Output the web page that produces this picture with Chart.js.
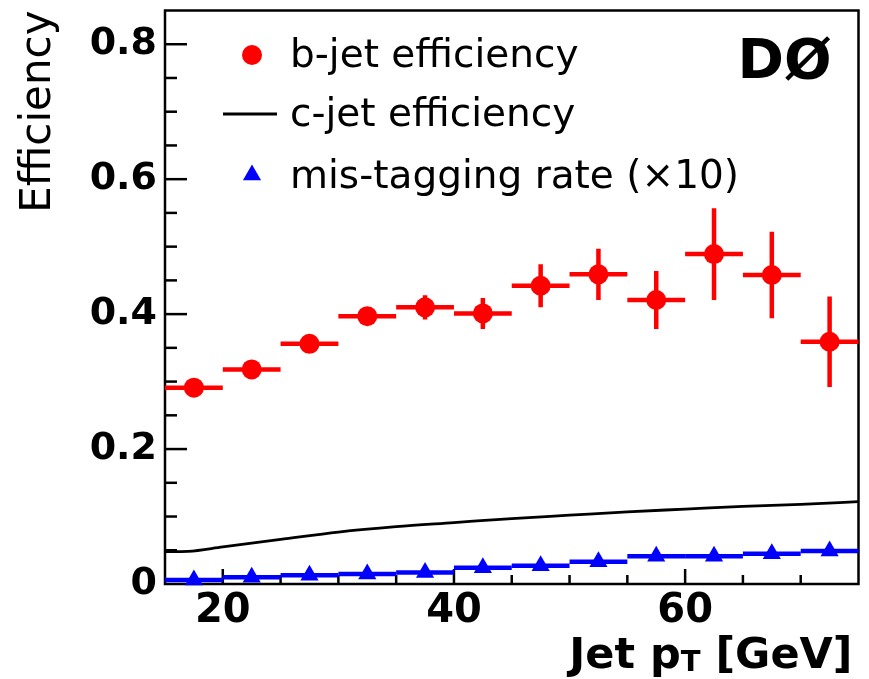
<!DOCTYPE html>
<html><head><meta charset="utf-8">
<script src="https://cdn.jsdelivr.net/npm/chart.js@4.4.1/dist/chart.umd.min.js"></script>
<style>html,body{margin:0;padding:0;background:#fff;} canvas{display:block;}</style>
</head><body>
<canvas id="c" width="869" height="679"></canvas>
<script>
// ---- data ----
const binCenters = [17.5, 22.5, 27.5, 32.5, 37.5, 42.5, 47.5, 52.5, 57.5, 62.5, 67.5, 72.5];
const binHalfWidth = 2.5;
const bJetEff = [0.291, 0.318, 0.356, 0.397, 0.410, 0.401, 0.442, 0.459, 0.421, 0.489, 0.458, 0.359];
const bJetErr = [0.005, 0.006, 0.008, 0.013, 0.018, 0.023, 0.032, 0.038, 0.043, 0.068, 0.064, 0.067];
const cJetPt = [15, 17, 20, 25, 30, 35, 40, 45, 50, 55, 60, 65, 70, 75];
const cJetEff = [0.048, 0.0485, 0.055, 0.066, 0.077, 0.085, 0.091, 0.097, 0.102, 0.107, 0.111, 0.115, 0.118, 0.122];
const misTagRate = [0.006, 0.010, 0.013, 0.015, 0.017, 0.024, 0.027, 0.033, 0.041, 0.041, 0.045, 0.049];
const xTickLabels = [20, 40, 60];
const yTickLabels = [0, 0.2, 0.4, 0.6, 0.8];
const legendLabels = ['b-jet efficiency', 'c-jet efficiency', 'mis-tagging rate (\u00d710)'];
const experimentLabel = 'D\u00d8';
const xTitleParts = ['Jet p', 'T', ' [GeV]'];
const yTitle = 'Efficiency';

const RED = '#ff0000', BLUE = '#0000ff', BLACK = '#000000';
const FONT = '"DejaVu Sans", "Liberation Sans", sans-serif';

function inList(v, list) { return list.some(l => Math.abs(l - v) < 1e-6); }

const decorPlugin = {
  id: 'decor',
  beforeDatasetsDraw(chart) {
    const {ctx, chartArea: a, scales: {x, y}} = chart;
    ctx.save();
    ctx.strokeStyle = BLACK;
    ctx.lineWidth = 2.5;
    (y._allTicks || y.ticks).forEach(t => {
      if (t.value <= y.min + 1e-9 || t.value >= y.max - 1e-9) return;
      const p = y.getPixelForValue(t.value);
      ctx.beginPath(); ctx.moveTo(a.left, p); ctx.lineTo(a.left + (inList(t.value, yTickLabels) ? 22 : 12), p); ctx.stroke();
    });
    (x._allTicks || x.ticks).forEach(t => {
      if (t.value <= x.min + 1e-9 || t.value >= x.max - 1e-9) return;
      const p = x.getPixelForValue(t.value);
      ctx.beginPath(); ctx.moveTo(p, a.bottom); ctx.lineTo(p, a.bottom - (inList(t.value, xTickLabels) ? 15 : 9)); ctx.stroke();
    });
    ctx.strokeRect(a.left, a.top, a.right - a.left, a.bottom - a.top);

    ctx.lineWidth = 4.5;
    ctx.strokeStyle = RED;
    binCenters.forEach((c, i) => {
      const py = y.getPixelForValue(bJetEff[i]);
      ctx.beginPath();
      ctx.moveTo(x.getPixelForValue(c - binHalfWidth), py);
      ctx.lineTo(x.getPixelForValue(c + binHalfWidth), py);
      ctx.moveTo(x.getPixelForValue(c), y.getPixelForValue(bJetEff[i] - bJetErr[i]));
      ctx.lineTo(x.getPixelForValue(c), y.getPixelForValue(bJetEff[i] + bJetErr[i]));
      ctx.stroke();
    });
    ctx.strokeStyle = BLUE;
    binCenters.forEach((c, i) => {
      const py = y.getPixelForValue(misTagRate[i]);
      ctx.beginPath();
      ctx.moveTo(x.getPixelForValue(c - binHalfWidth), py);
      ctx.lineTo(x.getPixelForValue(c + binHalfWidth), py);
      ctx.stroke();
    });
    ctx.restore();
  },
  afterDraw(chart) {
    const {ctx, chartArea: a} = chart;
    ctx.save();
    const mx = a.left + 87, tx = a.left + 125;
    const rows = [55, 114, 175];
    const bases = [67, 126, 188];
    ctx.fillStyle = RED; ctx.beginPath(); ctx.arc(mx, rows[0], 10, 0, Math.PI * 2); ctx.fill();
    ctx.strokeStyle = BLACK; ctx.lineWidth = 3;
    ctx.beginPath(); ctx.moveTo(mx - 29, rows[1]); ctx.lineTo(mx + 25, rows[1]); ctx.stroke();
    ctx.fillStyle = BLUE;
    ctx.beginPath();
    const r = 10.5;
    ctx.moveTo(mx, rows[2] - r);
    ctx.lineTo(mx + r * 0.866, rows[2] + r * 0.5);
    ctx.lineTo(mx - r * 0.866, rows[2] + r * 0.5);
    ctx.closePath(); ctx.fill();
    ctx.fillStyle = BLACK;
    ctx.font = '39px ' + FONT;
    ctx.textAlign = 'left'; ctx.textBaseline = 'alphabetic';
    legendLabels.forEach((l, i) => ctx.fillText(l, tx, bases[i]));
    ctx.font = 'bold 56px ' + FONT;
    ctx.textAlign = 'right';
    ctx.fillText(experimentLabel, a.right - 27, 78);
    const bigFont = 'bold 43px ' + FONT, subFont = 'bold 29px ' + FONT;
    ctx.textAlign = 'left';
    ctx.font = bigFont; const w0 = ctx.measureText(xTitleParts[0]).width; const w2 = ctx.measureText(xTitleParts[2]).width;
    ctx.font = subFont; const w1 = ctx.measureText(xTitleParts[1]).width;
    let sx = a.right - 6 - (w0 + w1 + w2);
    const base = 668;
    ctx.font = bigFont; ctx.fillText(xTitleParts[0], sx, base); sx += w0;
    ctx.font = subFont; ctx.fillText(xTitleParts[1], sx, base + 3); sx += w1;
    ctx.font = bigFont; ctx.fillText(xTitleParts[2], sx, base);
    ctx.restore();
  }
};

new Chart(document.getElementById('c'), {
  type: 'scatter',
  data: {
    datasets: [
      {
        label: legendLabels[0],
        data: binCenters.map((c, i) => ({x: c, y: bJetEff[i]})),
        pointStyle: 'circle', pointRadius: 10, pointHoverRadius: 10,
        backgroundColor: RED, borderColor: RED, borderWidth: 0, showLine: false, clip: false, order: 1
      },
      {
        label: legendLabels[1],
        type: 'line',
        data: cJetPt.map((p, i) => ({x: p, y: cJetEff[i]})),
        borderColor: BLACK, borderWidth: 2.8, pointRadius: 0, fill: false,
        cubicInterpolationMode: 'monotone', clip: false, order: 3
      },
      {
        label: legendLabels[2],
        data: binCenters.map((c, i) => ({x: c, y: misTagRate[i]})),
        pointStyle: 'triangle', pointRadius: 10.5, pointHoverRadius: 10.5,
        backgroundColor: BLUE, borderColor: BLUE, borderWidth: 0, showLine: false, clip: false, order: 2
      }
    ]
  },
  options: {
    responsive: false,
    animation: false,
    events: [],
    layout: {padding: {top: 10, right: 9, left: 0, bottom: 0}},
    plugins: {legend: {display: false}, tooltip: {enabled: false}},
    scales: {
      x: {
        type: 'linear', min: 15, max: 75,
        grid: {display: false, drawTicks: false},
        border: {display: false},
        ticks: {
          stepSize: 5, maxTicksLimit: 100, autoSkip: false, maxRotation: 0, padding: 4,
          color: BLACK, font: {family: FONT, size: 40, weight: 'bold'},
          callback: v => inList(v, xTickLabels) ? String(v) : null
        },
        afterBuildTicks: s => { s._allTicks = s.ticks.slice(); },
        afterFit: s => { s.height = 95; s.paddingLeft = 0; s.paddingRight = 0; }
      },
      y: {
        type: 'linear', min: 0, max: 0.85,
        grid: {display: false, drawTicks: false},
        border: {display: false},
        ticks: {
          stepSize: 0.05, maxTicksLimit: 100, autoSkip: false, padding: 8,
          color: BLACK, font: {family: FONT, size: 38, weight: 'bold'},
          callback: v => inList(v, yTickLabels) ? (Math.abs(v) < 1e-9 ? '0' : v.toFixed(1)) : null
        },
        title: {
          display: true, text: yTitle, align: 'end', color: BLACK,
          font: {family: FONT, size: 42, weight: 'normal'},
          padding: {top: 14, bottom: 0}
        },
        afterBuildTicks: s => { s._allTicks = s.ticks.slice(); },
        afterFit: s => { s.width = 165; s.paddingTop = 0; s.paddingBottom = 0; }
      }
    }
  },
  plugins: [decorPlugin]
});
</script>
</body></html>
